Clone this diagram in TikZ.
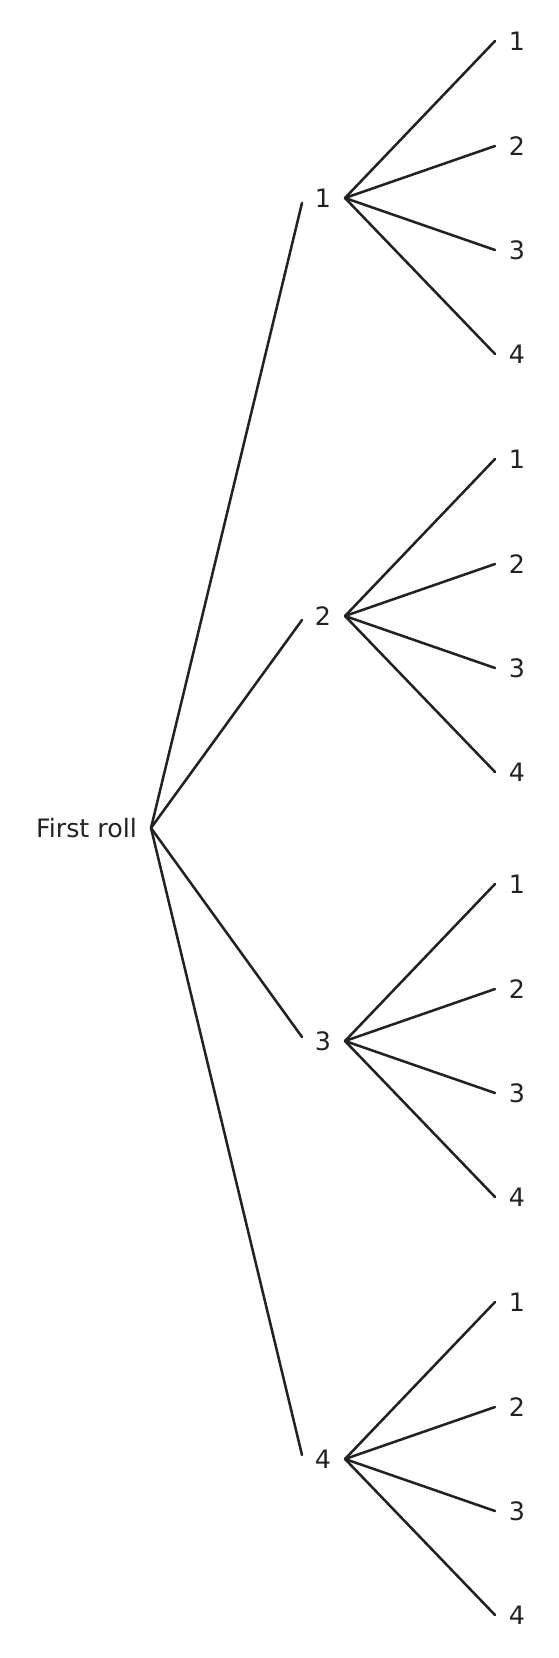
\documentclass[tikz,border=0pt]{standalone}
\usepackage{fontspec}
\setmainfont{DejaVu Sans}
\definecolor{ink}{RGB}{34,34,34}
\begin{document}
\begin{tikzpicture}[x=0.75pt,y=-0.75pt,
  edge/.style={draw=ink,line width=1.9pt,line cap=round},
  lbl/.style={text=ink,inner sep=0pt,font=\fontsize{19}{22}\selectfont}]
\useasboundingbox (0,0) rectangle (558,1658);
\node[lbl] (root) at (86.5,828) {First roll};
\coordinate (r) at (151,828);
\foreach \i/\c/\e in {1/198/203, 2/616/620, 3/1041/1037, 4/1459/1455} {
  \node[lbl] (a\i) at (323,\c) {\i};
  \coordinate (ae\i) at (302,\e);
  \coordinate (as\i) at (345,\c);
  \draw[edge] (r) -- (ae\i);
  \foreach \j/\d in {1/-157, 2/-52, 3/52, 4/156} {
    \pgfmathsetmacro{\yy}{\c+\d}
    \node[lbl] (b\i\j) at (517,\yy) {\j};
    \coordinate (be\i\j) at (495,\yy);
    \draw[edge] (as\i) -- (be\i\j);
  }
}
\end{tikzpicture}
\end{document}
